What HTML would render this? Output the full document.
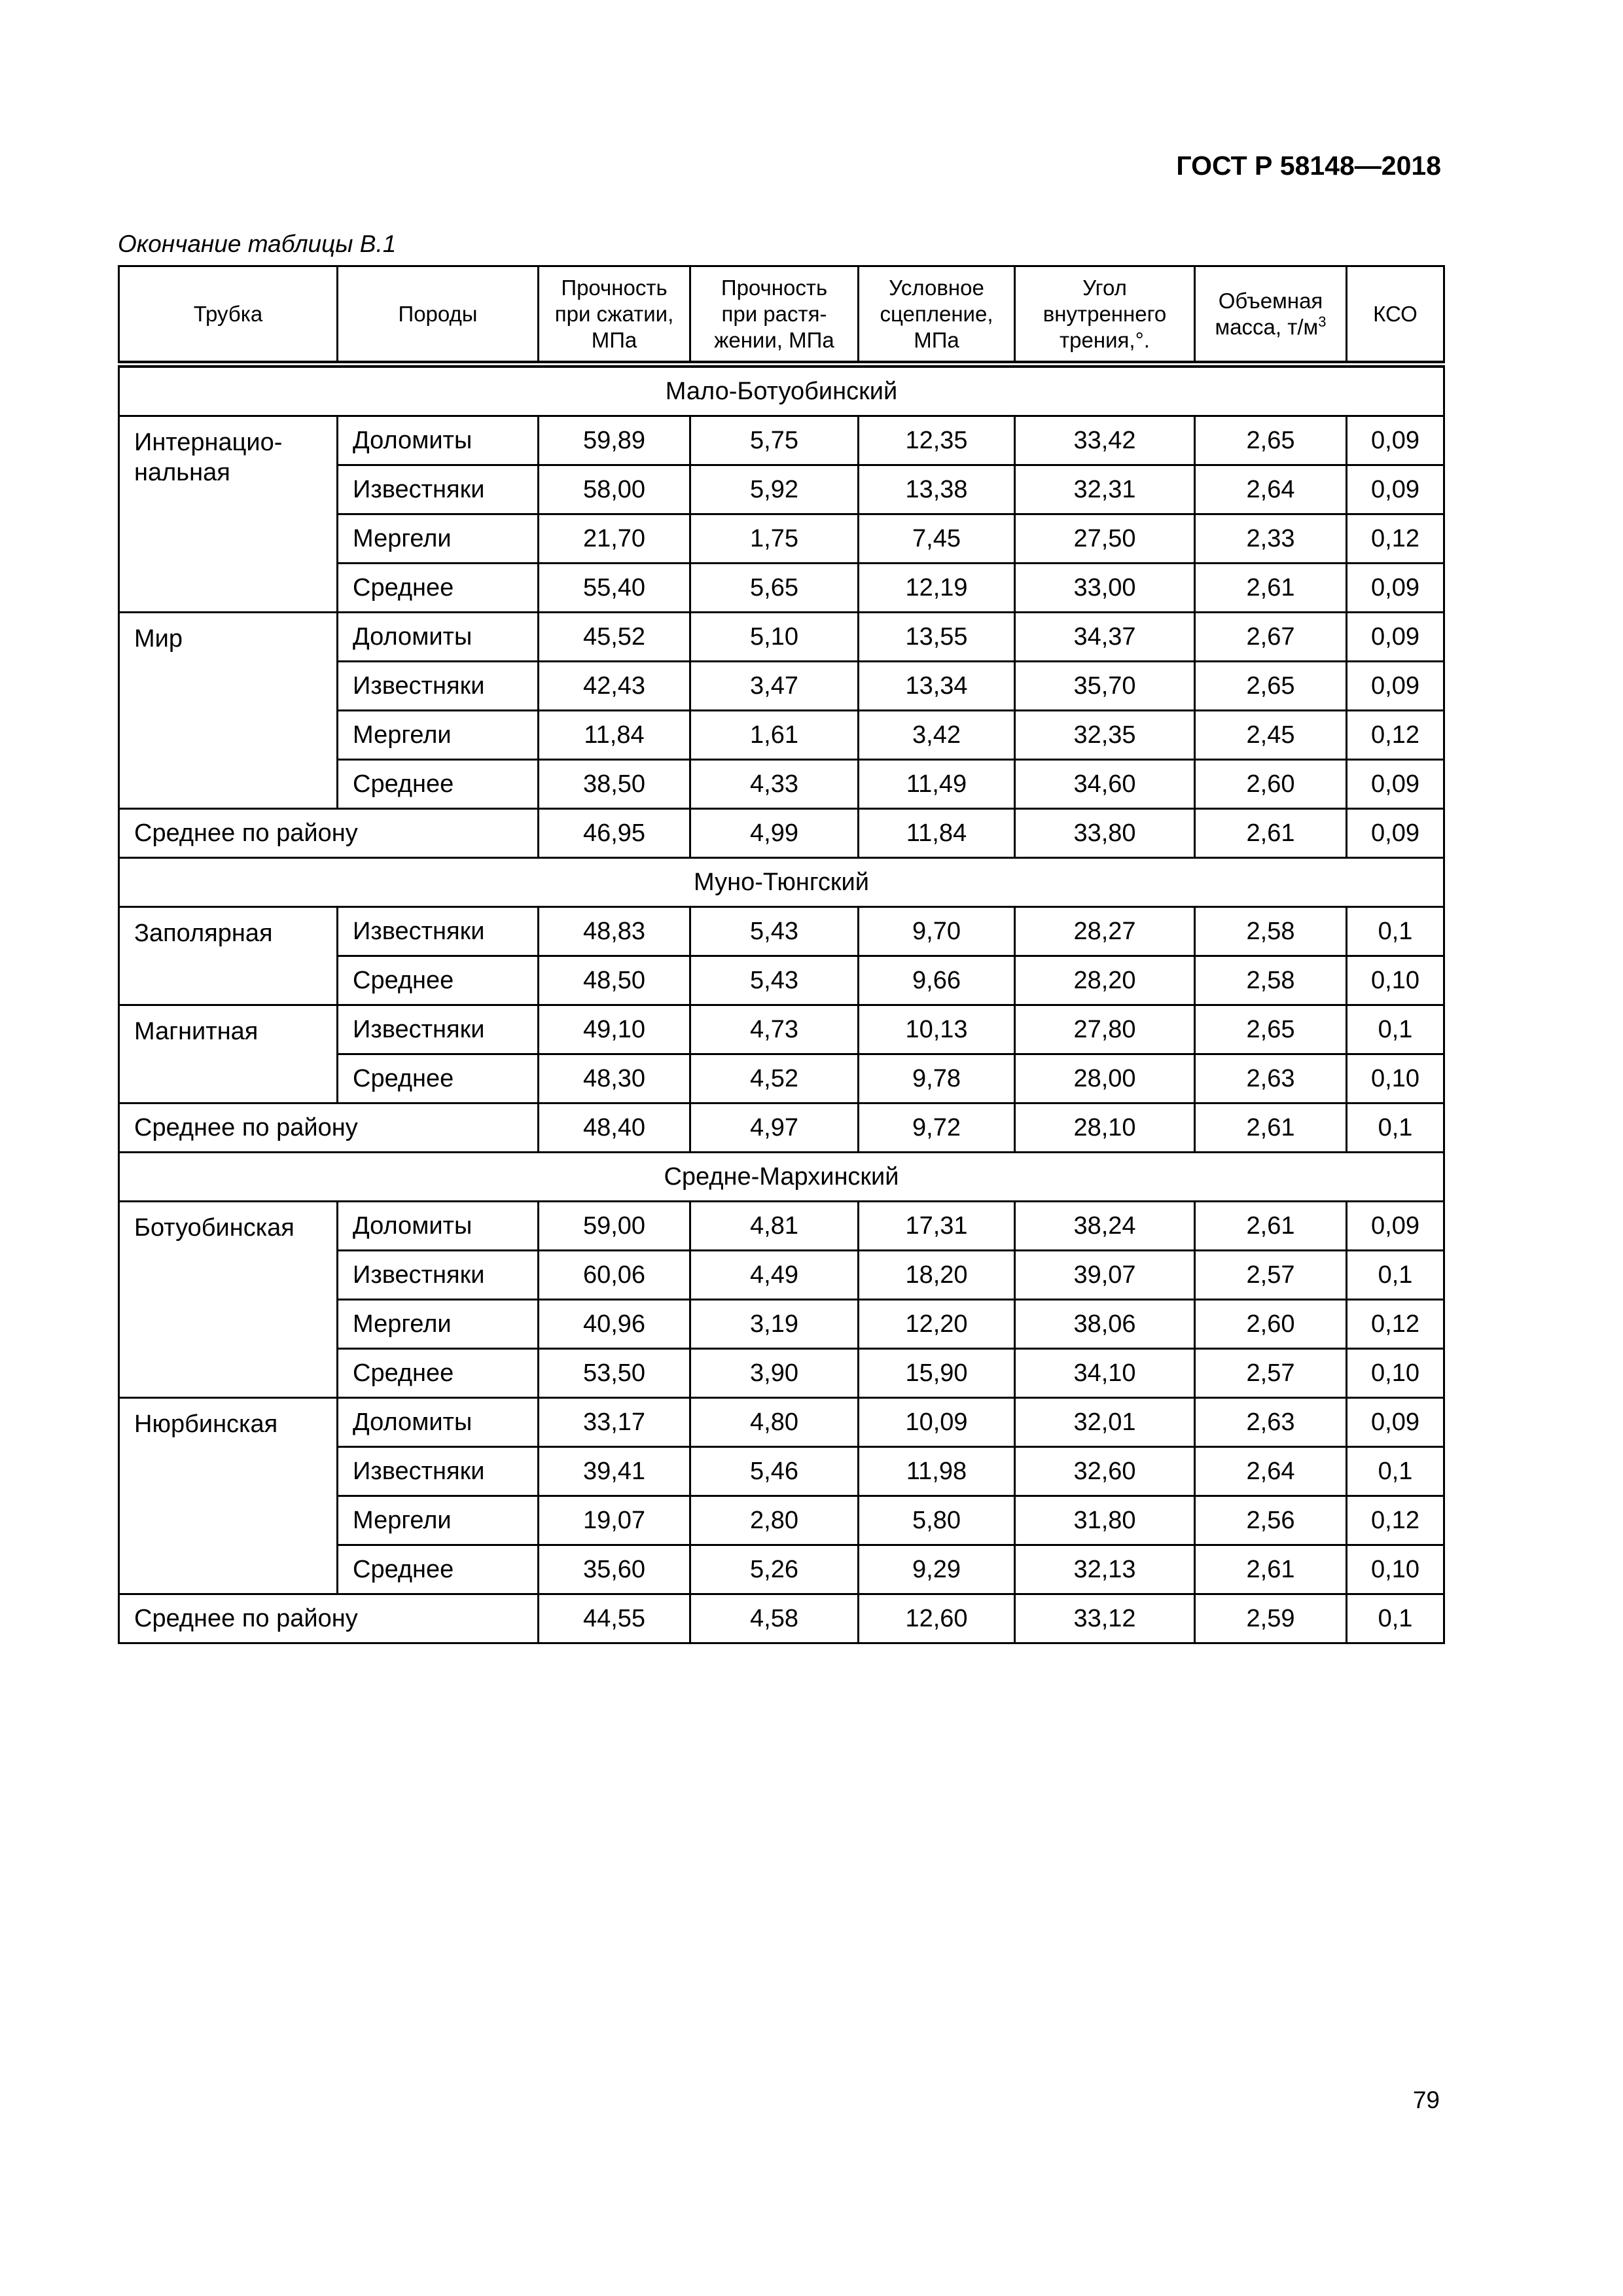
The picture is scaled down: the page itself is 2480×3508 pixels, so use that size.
<!DOCTYPE html>
<html><head><meta charset="utf-8">
<style>
html,body{margin:0;padding:0;background:#fff;}
body{width:2480px;height:3508px;position:relative;font-family:"Liberation Sans",Arial,sans-serif;color:#000;}
.gost{position:absolute;right:278px;top:230px;font-size:41px;font-weight:bold;}
.cap{position:absolute;left:180px;top:352px;font-size:37px;font-style:italic;}
.pn{position:absolute;right:280px;top:3188px;font-size:37px;}
table{position:absolute;left:180px;top:405px;width:2025px;border-collapse:collapse;table-layout:fixed;}
td{border:3px solid #000;font-size:38px;text-align:center;height:72px;padding:0;line-height:40px;}
thead td{font-size:33px;line-height:40px;height:143px;border-bottom:11px double #000;}
td.l{text-align:left;padding-left:22px;}
td.t{vertical-align:top;padding-top:16px;line-height:46px;}
sup{font-size:22px;line-height:0;}
</style></head><body>
<div class="gost">ГОСТ Р 58148—2018</div>
<div class="cap">Окончание таблицы В.1</div>
<table>
<colgroup><col style="width:334px"><col style="width:307px"><col style="width:232px"><col style="width:257px"><col style="width:239px"><col style="width:275px"><col style="width:232px"><col style="width:149px"></colgroup>
<thead><tr><td>Трубка</td><td>Породы</td><td>Прочность<br>при сжатии,<br>МПа</td><td>Прочность<br>при растя-<br>жении, МПа</td><td>Условное<br>сцепление,<br>МПа</td><td>Угол<br>внутреннего<br>трения,°.</td><td>Объемная<br>масса, т/м<sup>3</sup></td><td>КСО</td></tr></thead>
<tbody>
<tr><td colspan="8">Мало-Ботуобинский</td></tr>
<tr><td rowspan="4" class="l t">Интернацио-<br>нальная</td><td class="l">Доломиты</td><td>59,89</td><td>5,75</td><td>12,35</td><td>33,42</td><td>2,65</td><td>0,09</td></tr>
<tr><td class="l">Известняки</td><td>58,00</td><td>5,92</td><td>13,38</td><td>32,31</td><td>2,64</td><td>0,09</td></tr>
<tr><td class="l">Мергели</td><td>21,70</td><td>1,75</td><td>7,45</td><td>27,50</td><td>2,33</td><td>0,12</td></tr>
<tr><td class="l">Среднее</td><td>55,40</td><td>5,65</td><td>12,19</td><td>33,00</td><td>2,61</td><td>0,09</td></tr>
<tr><td rowspan="4" class="l t">Мир</td><td class="l">Доломиты</td><td>45,52</td><td>5,10</td><td>13,55</td><td>34,37</td><td>2,67</td><td>0,09</td></tr>
<tr><td class="l">Известняки</td><td>42,43</td><td>3,47</td><td>13,34</td><td>35,70</td><td>2,65</td><td>0,09</td></tr>
<tr><td class="l">Мергели</td><td>11,84</td><td>1,61</td><td>3,42</td><td>32,35</td><td>2,45</td><td>0,12</td></tr>
<tr><td class="l">Среднее</td><td>38,50</td><td>4,33</td><td>11,49</td><td>34,60</td><td>2,60</td><td>0,09</td></tr>
<tr><td colspan="2" class="l">Среднее по району</td><td>46,95</td><td>4,99</td><td>11,84</td><td>33,80</td><td>2,61</td><td>0,09</td></tr>
<tr><td colspan="8">Муно-Тюнгский</td></tr>
<tr><td rowspan="2" class="l t">Заполярная</td><td class="l">Известняки</td><td>48,83</td><td>5,43</td><td>9,70</td><td>28,27</td><td>2,58</td><td>0,1</td></tr>
<tr><td class="l">Среднее</td><td>48,50</td><td>5,43</td><td>9,66</td><td>28,20</td><td>2,58</td><td>0,10</td></tr>
<tr><td rowspan="2" class="l t">Магнитная</td><td class="l">Известняки</td><td>49,10</td><td>4,73</td><td>10,13</td><td>27,80</td><td>2,65</td><td>0,1</td></tr>
<tr><td class="l">Среднее</td><td>48,30</td><td>4,52</td><td>9,78</td><td>28,00</td><td>2,63</td><td>0,10</td></tr>
<tr><td colspan="2" class="l">Среднее по району</td><td>48,40</td><td>4,97</td><td>9,72</td><td>28,10</td><td>2,61</td><td>0,1</td></tr>
<tr><td colspan="8">Средне-Мархинский</td></tr>
<tr><td rowspan="4" class="l t">Ботуобинская</td><td class="l">Доломиты</td><td>59,00</td><td>4,81</td><td>17,31</td><td>38,24</td><td>2,61</td><td>0,09</td></tr>
<tr><td class="l">Известняки</td><td>60,06</td><td>4,49</td><td>18,20</td><td>39,07</td><td>2,57</td><td>0,1</td></tr>
<tr><td class="l">Мергели</td><td>40,96</td><td>3,19</td><td>12,20</td><td>38,06</td><td>2,60</td><td>0,12</td></tr>
<tr><td class="l">Среднее</td><td>53,50</td><td>3,90</td><td>15,90</td><td>34,10</td><td>2,57</td><td>0,10</td></tr>
<tr><td rowspan="4" class="l t">Нюрбинская</td><td class="l">Доломиты</td><td>33,17</td><td>4,80</td><td>10,09</td><td>32,01</td><td>2,63</td><td>0,09</td></tr>
<tr><td class="l">Известняки</td><td>39,41</td><td>5,46</td><td>11,98</td><td>32,60</td><td>2,64</td><td>0,1</td></tr>
<tr><td class="l">Мергели</td><td>19,07</td><td>2,80</td><td>5,80</td><td>31,80</td><td>2,56</td><td>0,12</td></tr>
<tr><td class="l">Среднее</td><td>35,60</td><td>5,26</td><td>9,29</td><td>32,13</td><td>2,61</td><td>0,10</td></tr>
<tr><td colspan="2" class="l">Среднее по району</td><td>44,55</td><td>4,58</td><td>12,60</td><td>33,12</td><td>2,59</td><td>0,1</td></tr>
</tbody></table>
<div class="pn">79</div>
</body></html>
